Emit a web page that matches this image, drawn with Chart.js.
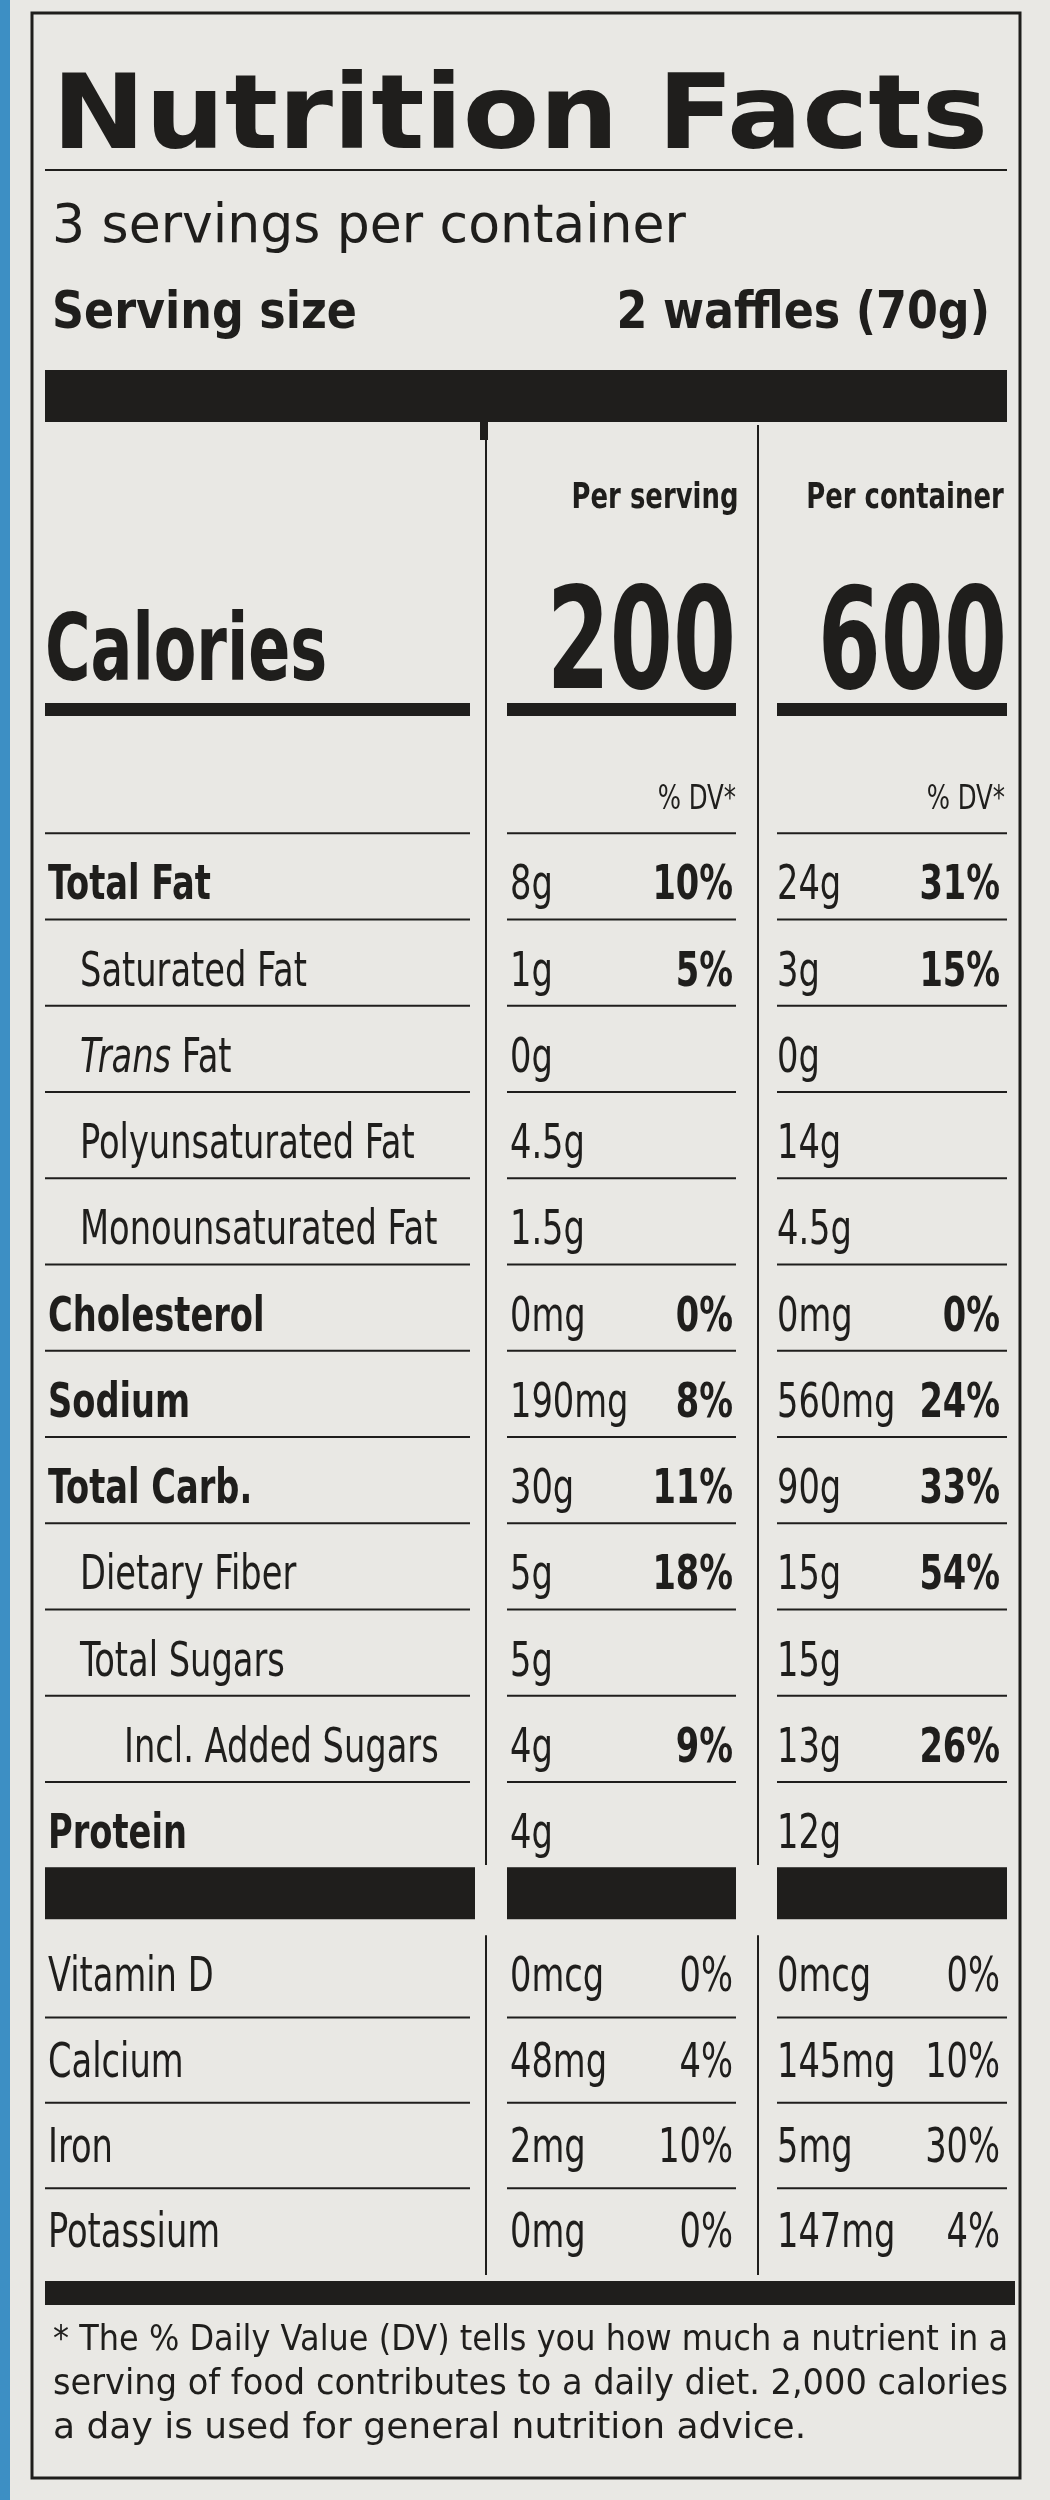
<!DOCTYPE html>
<html><head><meta charset="utf-8">
<script src="https://cdn.jsdelivr.net/npm/chart.js@4/dist/chart.umd.min.js"></script>
<style>body{margin:0;background:#e6e5e1}canvas{display:block}</style>
</head><body>
<canvas id="c" width="1050" height="2500"></canvas>
<script>
const rowLabels = ["Total Fat","Saturated Fat","Trans Fat","Polyunsaturated Fat","Monounsaturated Fat","Cholesterol","Sodium","Total Carb.","Dietary Fiber","Total Sugars","Incl. Added Sugars","Protein"];
const rowIndent = [0,1,1,1,1,0,0,0,1,1,2,0];
const rowBold = [1,0,0,0,0,1,1,1,0,0,0,1];
const perServingAmt = ["8g","1g","0g","4.5g","1.5g","0mg","190mg","30g","5g","5g","4g","4g"];
const perServingDV = ["10%","5%","","","","0%","8%","11%","18%","","9%",""];
const perContainerAmt = ["24g","3g","0g","14g","4.5g","0mg","560mg","90g","15g","15g","13g","12g"];
const perContainerDV = ["31%","15%","","","","0%","24%","33%","54%","","26%",""];
const vitLabels = ["Vitamin D","Calcium","Iron","Potassium"];
const vitServingAmt = ["0mcg","48mg","2mg","0mg"];
const vitServingDV = ["0%","4%","10%","0%"];
const vitContainerAmt = ["0mcg","145mg","5mg","147mg"];
const vitContainerDV = ["0%","10%","30%","4%"];
const caloriesServing = 200, caloriesContainer = 600;
const servingsText = "3 servings per container";
const servingSize = "2 waffles (70g)";

const COND = '"DejaVu Sans Condensed","Liberation Sans Narrow","DejaVu Sans",sans-serif';
const INK = '#1f1e1c';
const vitIdx = vitLabels.map((_,i)=>13.66+i*0.99);

const labelPlugin = {
  id:'label',
  afterDraw(chart){
    const ctx = chart.ctx, y = chart.scales.y;
    const P = v => y.getPixelForValue(v);
    const fx=(t,x,yy,align,sx)=>{ctx.save();ctx.translate(x,yy);ctx.scale(sx,1);ctx.textAlign=align;ctx.fillText(t,0,0);ctx.restore();};
    const SX=0.78;
    ctx.save();
    ctx.fillStyle=INK; ctx.strokeStyle=INK;
    ctx.lineWidth=3; ctx.strokeRect(32,13,988,2465);
    ctx.textBaseline='alphabetic';
    ctx.font='bold 104px "DejaVu Sans",sans-serif';
    ctx.textAlign='left';
    const tw = ctx.measureText('Nutrition Facts').width;
    fx('Nutrition Facts',52,148,'left',936/tw);
    ctx.lineWidth=2; ctx.beginPath(); ctx.moveTo(45,170); ctx.lineTo(1007,170); ctx.stroke();
    ctx.font='54px '+COND; fx(servingsText,52,242,'left',1.07);
    ctx.font='bold 52px '+COND; fx('Serving size',52,328,'left',0.95);
    fx(servingSize,990,328,'right',0.95);
    ctx.fillRect(45,370,962,52);
    ctx.fillRect(480,420,8,20);
    ctx.lineWidth=2;
    [486,758].forEach(x=>{ctx.beginPath();ctx.moveTo(x,425);ctx.lineTo(x,1865);ctx.stroke();});
    ctx.font='bold 36px '+COND;
    fx('Per serving',655,508,'center',0.8); fx('Per container',905,508,'center',0.8);
    ctx.font='bold 92px '+COND; fx('Calories',45,680,'left',0.75);
    ctx.font='bold 140px '+COND;
    fx(String(caloriesServing),736,688,'right',0.72); fx(String(caloriesContainer),1007,688,'right',0.72);
    const segs=[[45,470],[507,736],[777,1007]];
    segs.forEach(s=>ctx.fillRect(s[0],703,s[1]-s[0],13));
    ctx.font='34px '+COND;
    fx('% DV*',736,P(0)+12,'right',0.8); fx('% DV*',1005,P(0)+12,'right',0.8);
    const hline=(v)=>{ctx.lineWidth=2;segs.forEach(s=>{ctx.beginPath();ctx.moveTo(s[0],v);ctx.lineTo(s[1],v);ctx.stroke();});};
    hline(P(0.42));
    const indents=[48,80,124];
    rowLabels.forEach((lab,i)=>{
      const yy=P(i+1)+16;
      ctx.font=(rowBold[i]?'bold ':'')+'48px '+COND;
      if(lab==='Trans Fat'){
        ctx.font='italic 48px '+COND; fx('Trans',indents[1],yy,'left',SX);
        const w=ctx.measureText('Trans ').width*SX; ctx.font='48px '+COND; fx('Fat',indents[1]+w,yy,'left',SX);
      } else fx(lab,indents[rowIndent[i]],yy,'left',SX);
      ctx.font='48px '+COND;
      fx(perServingAmt[i],510,yy,'left',SX); fx(perContainerAmt[i],777,yy,'left',SX);
      ctx.font='bold 48px '+COND;
      fx(perServingDV[i],733,yy,'right',SX); fx(perContainerDV[i],1000,yy,'right',SX);
      if(i<rowLabels.length-1) hline(P(i+1.42));
    });
    const barY=P(12.71);
    segs.forEach((s,k)=>ctx.fillRect(s[0],barY-26,(k==0?475:s[1])-s[0],52));
    vitLabels.forEach((lab,i)=>{
      const yy=P(vitIdx[i])+16;
      ctx.font='48px '+COND;
      fx(lab,48,yy,'left',SX); fx(vitServingAmt[i],510,yy,'left',SX); fx(vitContainerAmt[i],777,yy,'left',SX);
      fx(vitServingDV[i],733,yy,'right',SX); fx(vitContainerDV[i],1000,yy,'right',SX);
      if(i<vitLabels.length-1) hline(P(vitIdx[i]+0.49));
    });
    [486,758].forEach(x=>{ctx.beginPath();ctx.moveTo(x,P(vitIdx[0])-40);ctx.lineTo(x,2275);ctx.stroke();});
    ctx.fillRect(45,2281,970,24);
    ctx.font='36px "DejaVu Sans",sans-serif';
    const fn=["* The % Daily Value (DV) tells you how much a nutrient in a","serving of food contributes to a daily diet. 2,000 calories","a day is used for general nutrition advice."];
    fn.forEach((t,i)=>{const w=ctx.measureText(t).width;fx(t,53,2350+i*44,'left',w>955?955/w:1);});
    ctx.restore();
  }
};
new Chart(document.getElementById('c'),{
  type:'scatter',
  data:{datasets:[{data:[],pointRadius:0}]},
  options:{responsive:false,devicePixelRatio:1,animation:false,
    layout:{padding:0},
    plugins:{legend:{display:false},tooltip:{enabled:false}},
    scales:{x:{display:false,min:0,max:1},
      y:{display:false,reverse:true,min:-797/86.25,max:-797/86.25+2500/86.25}}},
  plugins:[{id:'bg',beforeDraw(c){c.ctx.fillStyle='#e9e8e4';c.ctx.fillRect(0,0,1050,2500);c.ctx.fillStyle='#3d8fc4';c.ctx.fillRect(0,0,10,2500);}},labelPlugin]
});
</script>
</body></html>
